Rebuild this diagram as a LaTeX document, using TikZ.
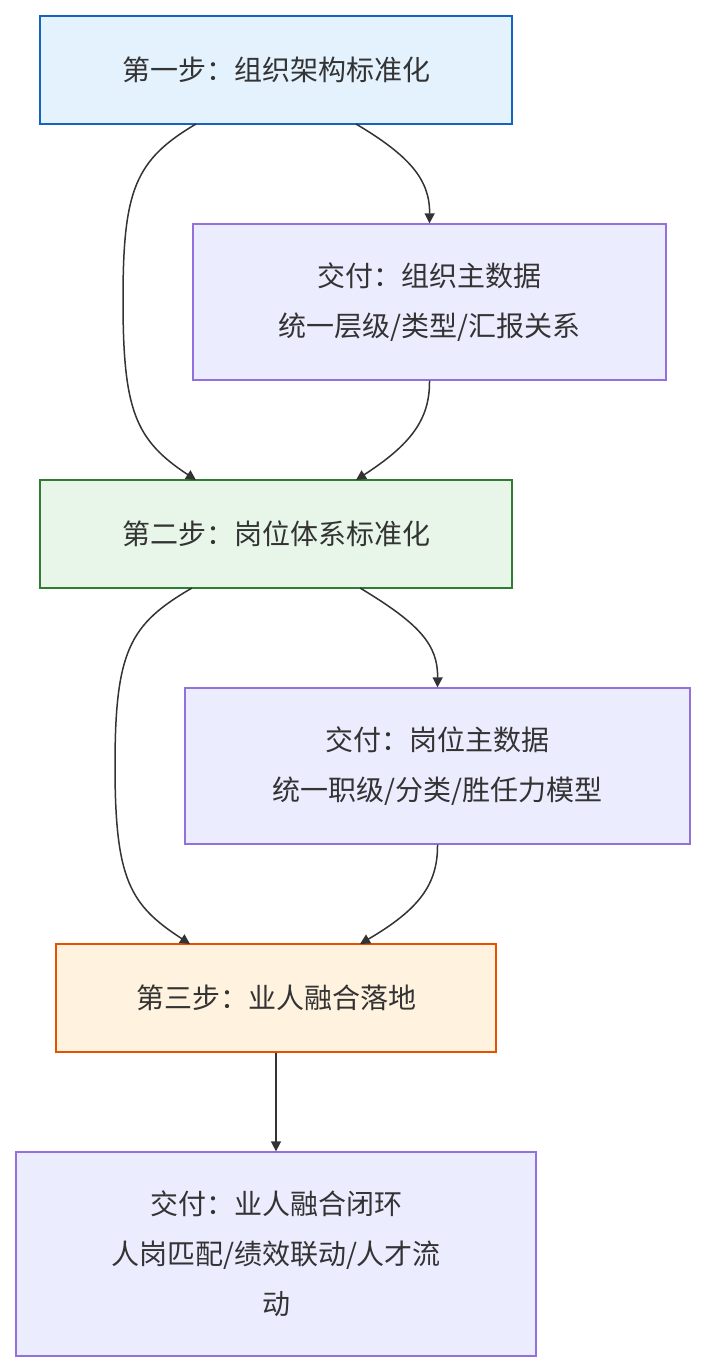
\documentclass[tikz,border=0pt]{standalone}
\usepackage{fontspec}
\setmainfont{Noto Sans CJK SC}
\usetikzlibrary{arrows.meta}
\definecolor{tx}{HTML}{333333}
\definecolor{f1}{HTML}{E3F2FD}\definecolor{s1}{HTML}{1565C0}
\definecolor{f2}{HTML}{E8F5E9}\definecolor{s2}{HTML}{2E7D32}
\definecolor{f3}{HTML}{FFF3E0}\definecolor{s3}{HTML}{E65100}
\definecolor{fd}{HTML}{ECECFF}\definecolor{sd}{HTML}{9370DB}
\begin{document}
\begin{tikzpicture}[x=1pt,y=-1pt,
 box/.style={draw,line width=1.3pt,inner sep=0,align=center,text=tx,font=\fontsize{28}{50}\selectfont},
 deliv/.style={box,fill=fd,draw=sd},
 edge/.style={draw=tx,line width=1.5pt,-{Triangle[length=10pt,width=10pt]}}]
\useasboundingbox[fill=white] (0,0) rectangle (706,1372);
\node[box,fill=f1,draw=s1,minimum width=472,minimum height=108] (A) at (276,70) {第一步：组织架构标准化};
\node[deliv,minimum width=473,minimum height=156] (B) at (429.5,302) {交付：组织主数据\\统一层级/类型/汇报关系};
\node[box,fill=f2,draw=s2,minimum width=472,minimum height=108] (C) at (276,534) {第二步：岗位体系标准化};
\node[deliv,minimum width=505,minimum height=156] (D) at (437.5,766) {交付：岗位主数据\\统一职级/分类/胜任力模型};
\node[box,fill=f3,draw=s3,minimum width=440,minimum height=108] (E) at (276,998) {第三步：业人融合落地};
\node[deliv,minimum width=520,minimum height=204] (F) at (276,1254) {交付：业人融合闭环\\人岗匹配/绩效联动/人才流\\动};
\coordinate (a1) at (356,124); \coordinate (a2) at (196,124);
\coordinate (c1) at (196,480); \coordinate (c2) at (356,480);
\coordinate (c3) at (360,588); \coordinate (c4) at (192,588);
\coordinate (e1) at (190,944); \coordinate (e2) at (360,944);
\path[edge] (a1) .. controls (410,156) and (430,180) .. (B.north);
\path[edge] (a2) .. controls (135,160) and (123,190) .. (123,300) .. controls (123,410) and (135,440) .. (c1);
\path[edge] (B.south) .. controls (430,420) and (410,445) .. (c2);
\path[edge] (c3) .. controls (420,624) and (438,645) .. (D.north);
\path[edge] (c4) .. controls (130,624) and (115,650) .. (115,766) .. controls (115,880) and (130,905) .. (e1);
\path[edge] (D.south) .. controls (438,885) and (418,910) .. (e2);
\path[edge] (E.south) -- (F.north);
\end{tikzpicture}
\end{document}
